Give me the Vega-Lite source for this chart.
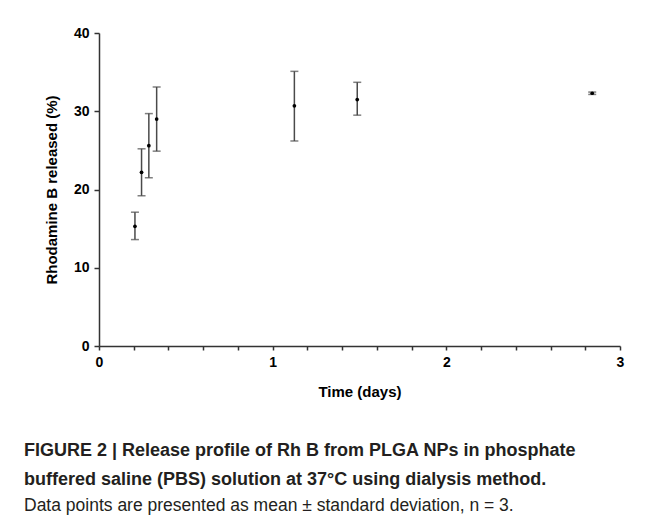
{
  "$schema": "https://vega.github.io/schema/vega-lite/v6.json",
  "autosize": {"type": "none"},
  "width": 521,
  "height": 313,
  "padding": {"left": 99, "top": 33, "right": 51, "bottom": 171},
  "background": "white",
  "data": {"values": [
    {"time": 0.207, "mean": 15.3, "lo": 13.6, "hi": 17.1},
    {"time": 0.245, "mean": 22.2, "lo": 19.2, "hi": 25.2},
    {"time": 0.287, "mean": 25.6, "lo": 21.5, "hi": 29.7},
    {"time": 0.332, "mean": 29.0, "lo": 24.9, "hi": 33.1},
    {"time": 1.125, "mean": 30.7, "lo": 26.2, "hi": 35.1},
    {"time": 1.487, "mean": 31.5, "lo": 29.5, "hi": 33.7},
    {"time": 2.84, "mean": 32.3, "lo": 32.15, "hi": 32.45}
  ]},
  "title": {
    "text": ["FIGURE 2 | Release profile of Rh B from PLGA NPs in phosphate", "buffered saline (PBS) solution at 37°C using dialysis method."],
    "subtitle": ["Data points are presented as mean ± standard deviation, n = 3."],
    "orient": "bottom",
    "anchor": "start",
    "frame": "group",
    "dx": -75,
    "offset": 43,
    "font": "Liberation Sans",
    "fontSize": 18,
    "fontWeight": "bold",
    "color": "#231f20",
    "lineHeight": 29,
    "subtitleFont": "Liberation Sans",
    "subtitleFontSize": 17.5,
    "subtitleFontWeight": "normal",
    "subtitleColor": "#231f20",
    "subtitlePadding": 8
  },
  "encoding": {
    "x": {
      "field": "time", "type": "quantitative",
      "scale": {"domain": [0, 3], "nice": false, "zero": true},
      "axis": {
        "title": "Time (days)",
        "values": [0, 0.2, 0.4, 0.6, 0.8, 1, 1.2, 1.4, 1.6, 1.8, 2, 2.2, 2.4, 2.6, 2.8, 3],
        "labelExpr": "datum.value % 1 === 0 ? format(datum.value, 'd') : ''",
        "grid": false,
        "tickSize": 4,
        "labelPadding": 5,
        "titlePadding": 15,
        "labelFlush": false
      }
    }
  },
  "layer": [
    {
      "mark": {"type": "rule", "color": "#4a4a4a", "strokeWidth": 1.5},
      "encoding": {
        "y": {
          "field": "lo", "type": "quantitative",
          "scale": {"domain": [0, 40], "nice": false},
          "axis": {
            "title": "Rhodamine B released (%)",
            "values": [0, 5, 10, 15, 20, 25, 30, 35, 40],
            "labelExpr": "datum.value % 10 === 0 ? format(datum.value, 'd') : ''",
            "grid": false,
            "tickSize": 5,
            "labelPadding": 5,
            "titlePadding": 14
          }
        },
        "y2": {"field": "hi"}
      }
    },
    {
      "mark": {"type": "tick", "color": "#4a4a4a", "thickness": 1.5, "size": 8, "orient": "horizontal"},
      "encoding": {"y": {"field": "lo", "type": "quantitative"}}
    },
    {
      "mark": {"type": "tick", "color": "#4a4a4a", "thickness": 1.5, "size": 8, "orient": "horizontal"},
      "encoding": {"y": {"field": "hi", "type": "quantitative"}}
    },
    {
      "mark": {"type": "point", "filled": true, "color": "#000000", "size": 14, "opacity": 1},
      "encoding": {"y": {"field": "mean", "type": "quantitative"}}
    }
  ],
  "config": {
    "view": {"stroke": null},
    "axis": {
      "domainColor": "#333333",
      "domainWidth": 1.5,
      "tickColor": "#333333",
      "tickWidth": 1.5,
      "labelFont": "Liberation Sans",
      "labelFontWeight": "bold",
      "labelFontSize": 14,
      "labelColor": "#000000",
      "titleFont": "Liberation Sans",
      "titleFontWeight": "bold",
      "titleFontSize": 15,
      "titleColor": "#000000"
    }
  }
}
